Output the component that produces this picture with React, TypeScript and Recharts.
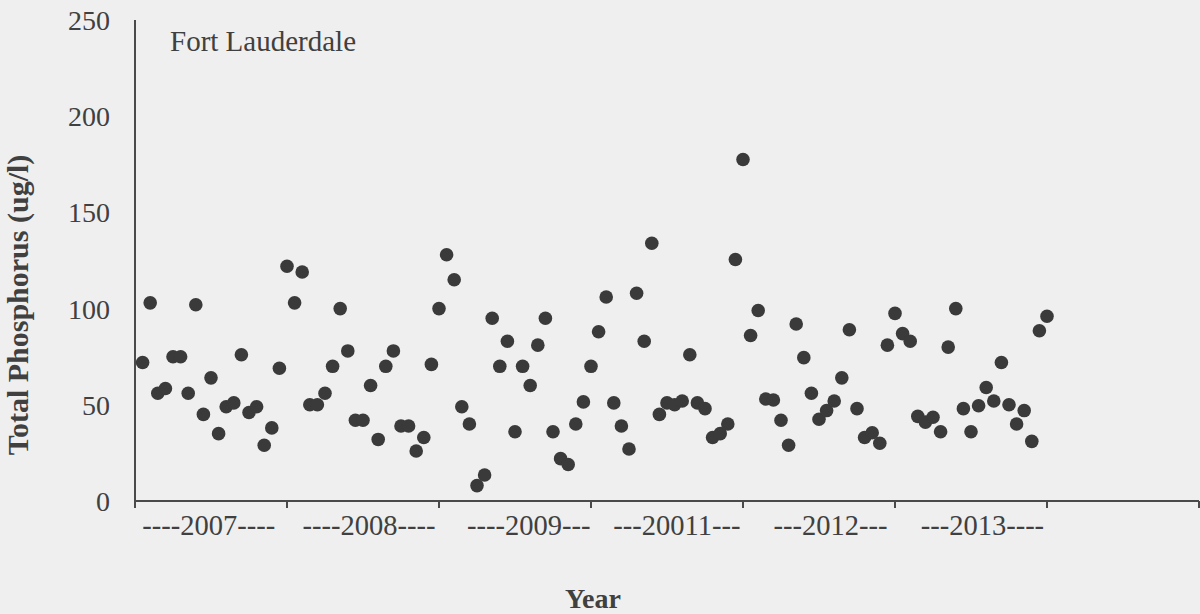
import React from "react";
import { ScatterChart, Scatter, XAxis, YAxis, Label } from "recharts";

// Monthly total phosphorus samples (ug/l), Fort Lauderdale, 20 samples per year
const TP_2007 = [72, 103, 56, 58.5, 75, 75, 56, 102, 45, 64, 35, 49, 51, 76, 46, 49, 29, 38, 69, 122];
const TP_2008 = [103, 119, 50, 50, 56, 70, 100, 78, 42, 42, 60, 32, 70, 78, 39, 39, 26, 33, 71, 100];
const TP_2009 = [128, 115, 49, 40, 8, 13.5, 95, 70, 83, 36, 70, 60, 81, 95, 36, 22, 19, 40, 51.5, 70];
const TP_2011 = [88, 106, 51, 39, 27, 108, 83, 134, 45, 51, 50, 52, 76, 51, 48, 33, 35, 40, 125.5, 177.5];
const TP_2012 = [86, 99, 53, 52.5, 42, 29, 92, 74.5, 56, 42.5, 47, 52, 64, 89, 48, 33, 35.5, 30, 81, 97.5];
const TP_2013 = [87, 83, 44, 41, 43.5, 36, 80, 100, 48, 36, 49.5, 59, 52, 72, 50, 40, 47, 31, 88.5, 96];

// Year group labels and where they sit along the sample index axis
const YEAR_LABELS = ["----2007----", "----2008----", "----2009---", "---20011---", "---2012---", "---2013----"];
const YEAR_LABEL_POS = [9.7, 30.8, 51.8, 71.3, 91.5, 111.5];
// Group boundary ticks along the sample index axis
const BOUNDARY_TICKS = [0, 20, 40, 60, 80, 100, 120, 140];
const Y_TICKS = [0, 50, 100, 150, 200, 250];

const ALL_VALUES = [...TP_2007, ...TP_2008, ...TP_2009, ...TP_2011, ...TP_2012, ...TP_2013];
const samples = ALL_VALUES.map((tp, i) => ({ n: i + 1, tp }));

const FONT = "'Liberation Serif', 'Times New Roman', serif";
const INK = "#404040";
const AXIS = "#4a4a4a";
const DOT = "#3a3a3a";

const XTick = (props: any) => {
  const { x, y, payload } = props;
  const v = payload.value;
  const li = YEAR_LABEL_POS.indexOf(v);
  if (li >= 0) {
    return (
      <text x={x} y={y + 34} textAnchor="middle" fontFamily={FONT} fontSize={28.5} fill={INK}>
        {YEAR_LABELS[li]}
      </text>
    );
  }
  return <line x1={x} x2={x} y1={y} y2={y + 7} stroke={AXIS} strokeWidth={2} />;
};

const Dot = (props: any) => <circle cx={props.cx} cy={props.cy} r={6.8} fill={DOT} />;

export default function App() {
  return (
    <div style={{ position: "absolute", left: 0, top: 0, width: 1200, height: 614, background: "#efefef" }}>
      <ScatterChart width={1200} height={614} margin={{ top: 20, right: 1, bottom: 0, left: 0 }}>
        <XAxis
          type="number"
          dataKey="n"
          domain={[0, 140]}
          ticks={[...BOUNDARY_TICKS, ...YEAR_LABEL_POS].sort((a, b) => a - b)}
          interval={0}
          tickSize={0}
          tickMargin={0}
          tick={<XTick />}
          tickLine={false}
          axisLine={{ stroke: AXIS, strokeWidth: 2 }}
          height={113}
        >
          <Label
            content={() => (
              <text x={593} y={608} textAnchor="middle" fontFamily={FONT} fontSize={28} fontWeight="bold" fill={INK}>
                Year
              </text>
            )}
          />
        </XAxis>
        <YAxis
          type="number"
          dataKey="tp"
          domain={[0, 250]}
          ticks={Y_TICKS}
          interval={0}
          tickSize={0}
          tickMargin={25}
          tickLine={false}
          axisLine={{ stroke: AXIS, strokeWidth: 2 }}
          tick={{ fontFamily: FONT, fontSize: 28, fill: INK }}
          width={135}
        >
          <Label
            content={() => (
              <g>
                <text
                  x={28}
                  y={305}
                  transform="rotate(-90, 28, 305)"
                  textAnchor="middle"
                  fontFamily={FONT}
                  fontSize={30}
                  fontWeight="bold"
                  fill={INK}
                >
                  Total Phosphorus (ug/l)
                </text>
                <text x={170} y={51} fontFamily={FONT} fontSize={29} fill={INK}>
                  Fort Lauderdale
                </text>
              </g>
            )}
          />
        </YAxis>
        <Scatter data={samples} fill={DOT} shape={<Dot />} isAnimationActive={false} />
      </ScatterChart>
    </div>
  );
}
